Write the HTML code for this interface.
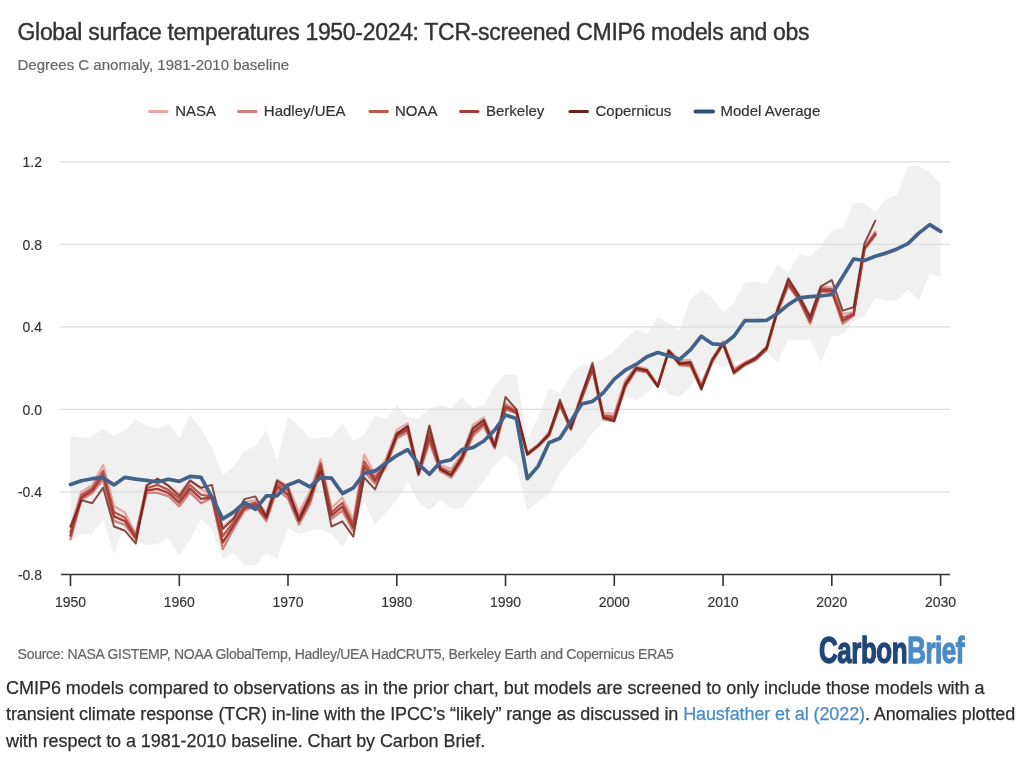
<!DOCTYPE html>
<html><head><meta charset="utf-8"><style>
html,body{margin:0;padding:0;background:#fff;width:1024px;height:757px;overflow:hidden}
body{position:relative;font-family:"Liberation Sans",sans-serif;filter:blur(0.3px)}
</style></head><body>
<svg width="1024" height="757" style="position:absolute;left:0;top:0">
<polygon points="70.5,435.8 81.4,438.1 92.3,435.8 103.1,429.2 114.0,435.8 124.9,430.4 135.8,419.5 146.6,425.5 157.5,428.4 168.4,423.4 179.3,438.1 190.1,414.6 201.0,428.4 211.9,447.3 222.8,475.2 233.6,466.5 244.5,450.4 255.4,445.9 266.3,429.8 277.1,460.5 288.0,416.6 298.9,425.5 309.8,438.7 320.6,437.2 331.5,437.2 342.4,423.4 353.3,441.4 364.2,434.8 375.0,415.8 385.9,418.7 396.8,405.5 407.7,417.2 418.5,418.7 429.4,408.6 440.3,405.5 451.2,408.6 462.0,396.8 472.9,408.6 483.8,405.5 494.7,385.1 505.5,374.8 516.4,374.8 527.3,439.1 538.2,417.2 549.0,387.9 559.9,393.7 570.8,374.8 581.7,364.4 592.5,364.4 603.4,358.7 614.3,351.2 625.2,338.7 636.1,329.4 646.9,334.3 657.8,317.6 668.7,322.8 679.6,331.0 690.4,299.5 701.3,289.6 712.2,297.8 723.1,312.5 733.9,302.8 744.8,282.8 755.7,281.1 766.6,284.4 777.4,264.6 788.3,272.9 799.2,254.7 810.1,256.4 820.9,246.5 831.8,230.0 842.7,227.9 853.6,203.1 864.4,203.1 875.3,212.4 886.2,199.0 897.1,194.9 908.0,166.0 918.8,166.0 929.7,172.2 940.6,184.6 940.6,277.4 929.7,273.3 918.8,300.7 908.0,289.8 897.1,300.1 886.2,301.1 875.3,298.0 864.4,316.6 853.6,320.7 842.7,335.1 831.8,336.2 820.9,362.0 810.1,339.3 799.2,340.3 788.3,339.3 777.4,362.6 766.6,351.6 755.7,351.6 744.8,359.9 733.9,362.6 723.1,368.1 712.2,359.9 701.3,372.3 690.4,386.7 679.6,396.4 668.7,394.5 657.8,382.6 646.9,392.9 636.1,400.3 625.2,397.0 614.3,406.3 603.4,422.8 592.5,433.1 581.7,448.6 570.8,458.9 559.9,473.3 549.0,494.0 538.2,502.2 527.3,510.5 516.4,465.1 505.5,454.8 494.7,465.1 483.8,481.6 472.9,494.0 462.0,508.4 451.2,508.4 440.3,500.1 429.4,510.5 418.5,502.2 407.7,481.6 396.8,500.1 385.9,512.5 375.0,524.9 364.2,501.0 353.3,529.0 342.4,547.2 331.5,534.0 320.6,529.4 309.8,530.9 298.9,534.0 288.0,528.0 277.1,558.7 266.3,552.9 255.4,565.3 244.5,564.7 233.6,552.9 222.8,558.7 211.9,529.4 201.0,519.1 190.1,539.8 179.3,555.8 168.4,538.3 157.5,544.1 146.6,545.5 135.8,539.8 124.9,522.2 114.0,554.4 103.1,519.1 92.3,534.0 81.4,534.8 70.5,539.8" fill="#f0f0f0"/>
<line x1="60" x2="950" y1="161.9" y2="161.9" stroke="#dedede" stroke-width="1.3"/>
<line x1="60" x2="950" y1="244.4" y2="244.4" stroke="#dedede" stroke-width="1.3"/>
<line x1="60" x2="950" y1="326.9" y2="326.9" stroke="#dedede" stroke-width="1.3"/>
<line x1="60" x2="950" y1="409.4" y2="409.4" stroke="#dedede" stroke-width="1.3"/>
<line x1="60" x2="950" y1="491.9" y2="491.9" stroke="#dedede" stroke-width="1.3"/>
<line x1="61" x2="950" y1="574.5" y2="574.5" stroke="#333" stroke-width="1.6"/>
<line x1="70.5" x2="70.5" y1="574.5" y2="586" stroke="#333" stroke-width="1.6"/>
<line x1="179.3" x2="179.3" y1="574.5" y2="586" stroke="#333" stroke-width="1.6"/>
<line x1="288.0" x2="288.0" y1="574.5" y2="586" stroke="#333" stroke-width="1.6"/>
<line x1="396.8" x2="396.8" y1="574.5" y2="586" stroke="#333" stroke-width="1.6"/>
<line x1="505.5" x2="505.5" y1="574.5" y2="586" stroke="#333" stroke-width="1.6"/>
<line x1="614.3" x2="614.3" y1="574.5" y2="586" stroke="#333" stroke-width="1.6"/>
<line x1="723.1" x2="723.1" y1="574.5" y2="586" stroke="#333" stroke-width="1.6"/>
<line x1="831.8" x2="831.8" y1="574.5" y2="586" stroke="#333" stroke-width="1.6"/>
<line x1="940.6" x2="940.6" y1="574.5" y2="586" stroke="#333" stroke-width="1.6"/>
<polyline points="70.5,527.0 81.4,491.9 92.3,484.9 103.1,465.1 114.0,506.3 124.9,512.5 135.8,534.2 146.6,484.9 157.5,479.5 168.4,485.7 179.3,494.0 190.1,480.1 201.0,488.8 211.9,496.0 222.8,527.2 233.6,517.7 244.5,502.2 255.4,500.1 266.3,512.5 277.1,479.9 288.0,485.7 298.9,512.5 309.8,491.9 320.6,459.5 331.5,508.0 342.4,497.7 353.3,519.7 364.2,454.8 375.0,474.2 385.9,458.9 396.8,430.0 407.7,423.4 418.5,471.3 429.4,425.1 440.3,465.1 451.2,469.2 462.0,453.7 472.9,425.1 483.8,417.6 494.7,442.4 505.5,403.2 516.4,409.4 527.3,452.7 538.2,444.5 549.0,432.1 559.9,402.2 570.8,425.9 581.7,392.9 592.5,366.1 603.4,413.5 614.3,413.5 625.2,380.7 636.1,366.1 646.9,368.8 657.8,385.1 668.7,349.8 679.6,360.1 690.4,360.1 701.3,384.2 712.2,358.5 723.1,341.3 733.9,368.8 744.8,362.0 755.7,356.8 766.6,346.5 777.4,308.3 788.3,278.6 799.2,294.9 810.1,316.0 820.9,286.3 831.8,287.7 842.7,313.9 853.6,312.5 864.4,247.1 875.3,231.4" fill="none" stroke="#e6a8a6" stroke-width="2.4" stroke-linejoin="round" stroke-linecap="round" opacity="1"/>
<polyline points="70.5,539.3 81.4,500.1 92.3,492.9 103.1,479.5 114.0,520.8 124.9,524.9 135.8,539.3 146.6,492.9 157.5,492.9 168.4,496.0 179.3,506.3 190.1,492.3 201.0,503.2 211.9,498.1 222.8,549.0 233.6,528.6 244.5,510.5 255.4,506.3 266.3,521.0 277.1,489.0 288.0,498.5 298.9,524.5 309.8,504.3 320.6,469.2 331.5,518.7 342.4,510.5 353.3,531.1 364.2,471.3 375.0,483.6 385.9,467.1 396.8,438.3 407.7,432.1 418.5,475.4 429.4,442.4 440.3,471.3 451.2,477.5 462.0,461.0 472.9,436.2 483.8,425.9 494.7,448.6 505.5,409.4 516.4,413.5 527.3,454.8 538.2,446.5 549.0,436.2 559.9,405.3 570.8,430.0 581.7,399.1 592.5,370.2 603.4,419.3 614.3,421.2 625.2,387.7 636.1,370.2 646.9,372.3 657.8,386.7 668.7,351.6 679.6,365.3 690.4,366.1 701.3,389.4 712.2,362.0 723.1,344.6 733.9,373.9 744.8,365.3 755.7,360.1 766.6,349.8 777.4,312.5 788.3,285.6 799.2,300.7 810.1,323.6 820.9,291.8 831.8,291.8 842.7,323.8 853.6,315.6 864.4,249.6 875.3,235.5" fill="none" stroke="#cf827e" stroke-width="2.4" stroke-linejoin="round" stroke-linecap="round" opacity="1"/>
<polyline points="70.5,531.9 81.4,495.2 92.3,488.1 103.1,470.9 114.0,512.1 124.9,517.5 135.8,536.2 146.6,488.1 157.5,484.9 168.4,489.8 179.3,498.9 190.1,485.0 201.0,494.6 211.9,496.8 222.8,535.9 233.6,522.1 244.5,505.5 255.4,502.6 266.3,515.9 277.1,483.6 288.0,490.8 298.9,517.3 309.8,496.8 320.6,463.4 331.5,512.3 342.4,502.8 353.3,524.3 364.2,461.4 375.0,478.0 385.9,462.2 396.8,433.3 407.7,426.9 418.5,472.9 429.4,432.0 440.3,467.6 451.2,472.5 462.0,456.6 472.9,429.5 483.8,420.9 494.7,444.9 505.5,405.7 516.4,411.0 527.3,453.5 538.2,445.3 549.0,433.7 559.9,403.4 570.8,427.5 581.7,395.4 592.5,367.7 603.4,415.8 614.3,416.6 625.2,383.5 636.1,367.7 646.9,370.2 657.8,385.7 668.7,350.5 679.6,362.2 690.4,362.5 701.3,386.3 712.2,359.9 723.1,342.7 733.9,370.8 744.8,363.3 755.7,358.1 766.6,347.8 777.4,310.0 788.3,281.4 799.2,297.2 810.1,319.0 820.9,288.5 831.8,289.4 842.7,317.9 853.6,313.7 864.4,248.1 875.3,233.1" fill="none" stroke="#bd574d" stroke-width="2.4" stroke-linejoin="round" stroke-linecap="round" opacity="1"/>
<polyline points="70.5,535.6 81.4,497.7 92.3,490.5 103.1,475.2 114.0,516.4 124.9,521.2 135.8,537.8 146.6,490.5 157.5,488.9 168.4,492.9 179.3,502.6 190.1,488.7 201.0,498.9 211.9,497.5 222.8,542.5 233.6,525.3 244.5,508.0 255.4,504.5 266.3,518.4 277.1,486.3 288.0,494.7 298.9,520.9 309.8,500.6 320.6,466.3 331.5,515.5 342.4,506.6 353.3,527.7 364.2,466.3 375.0,480.8 385.9,464.7 396.8,435.8 407.7,429.5 418.5,474.2 429.4,437.2 440.3,469.4 451.2,475.0 462.0,458.8 472.9,432.9 483.8,423.4 494.7,446.7 505.5,407.5 516.4,412.3 527.3,454.2 538.2,445.9 549.0,435.0 559.9,404.3 570.8,428.8 581.7,397.2 592.5,369.0 603.4,417.6 614.3,418.9 625.2,385.6 636.1,369.0 646.9,371.2 657.8,386.2 668.7,351.1 679.6,363.7 690.4,364.3 701.3,387.8 712.2,360.9 723.1,343.6 733.9,372.4 744.8,364.3 755.7,359.1 766.6,348.8 777.4,311.2 788.3,283.5 799.2,299.0 810.1,321.3 820.9,290.2 831.8,290.6 842.7,320.8 853.6,314.6 864.4,248.8 875.3,234.3" fill="none" stroke="#a43f38" stroke-width="2.4" stroke-linejoin="round" stroke-linecap="round" opacity="1"/>
<polyline points="70.5,526.5 81.4,500.1 92.3,503.2 103.1,487.6 114.0,526.5 124.9,530.7 135.8,543.5 146.6,485.7 157.5,478.7 168.4,485.7 179.3,496.0 190.1,480.6 201.0,487.8 211.9,484.9 222.8,529.0 233.6,518.7 244.5,499.1 255.4,496.4 266.3,516.6 277.1,480.6 288.0,487.8 298.9,520.8 309.8,496.0 320.6,471.3 331.5,526.5 342.4,521.4 353.3,536.7 364.2,477.5 375.0,489.4 385.9,463.0 396.8,434.1 407.7,425.9 418.5,473.3 429.4,425.9 440.3,469.2 451.2,475.4 462.0,456.8 472.9,428.0 483.8,419.7 494.7,446.5 505.5,397.0 516.4,409.4 527.3,454.8 538.2,445.5 549.0,434.1 559.9,399.7 570.8,428.0 581.7,395.0 592.5,362.8 603.4,417.6 614.3,421.2 625.2,384.6 636.1,368.1 646.9,370.2 657.8,386.7 668.7,350.6 679.6,364.0 690.4,362.0 701.3,389.4 712.2,359.9 723.1,343.4 733.9,372.3 744.8,364.0 755.7,357.8 766.6,347.5 777.4,310.4 788.3,278.6 799.2,296.0 810.1,316.6 820.9,286.3 831.8,280.1 842.7,310.6 853.6,307.3 864.4,243.8 875.3,220.7" fill="none" stroke="#6a2019" stroke-width="2.0" stroke-linejoin="round" stroke-linecap="round" opacity="0.8"/>
<polyline points="70.5,484.5 81.4,480.8 92.3,478.7 103.1,477.7 114.0,484.9 124.9,477.3 135.8,479.1 146.6,480.3 157.5,482.0 168.4,479.3 179.3,481.4 190.1,476.4 201.0,477.3 211.9,497.1 222.8,518.9 233.6,512.1 244.5,502.6 255.4,509.4 266.3,495.8 277.1,495.8 288.0,484.9 298.9,480.8 309.8,486.9 320.6,477.7 331.5,478.1 342.4,493.5 353.3,487.8 364.2,473.3 375.0,470.9 385.9,463.2 396.8,455.6 407.7,449.6 418.5,464.1 429.4,474.2 440.3,462.2 451.2,459.7 462.0,449.6 472.9,447.6 483.8,441.0 494.7,430.0 505.5,415.0 516.4,418.5 527.3,478.7 538.2,466.1 549.0,442.8 559.9,438.3 570.8,421.2 581.7,404.0 592.5,401.4 603.4,392.7 614.3,379.1 625.2,370.2 636.1,364.4 646.9,356.8 657.8,352.5 668.7,355.8 679.6,359.3 690.4,349.8 701.3,336.2 712.2,343.8 723.1,344.6 733.9,336.2 744.8,320.7 755.7,320.7 766.6,320.3 777.4,313.5 788.3,304.6 799.2,297.8 810.1,296.6 820.9,296.0 831.8,294.5 842.7,276.8 853.6,259.0 864.4,260.5 875.3,256.2 886.2,253.1 897.1,248.9 908.0,243.6 918.8,233.1 929.7,224.6 940.6,231.4" fill="none" stroke="#44618a" stroke-width="3.7" stroke-linejoin="round" stroke-linecap="round"/>
<line x1="149.5" x2="167.0" y1="111.5" y2="111.5" stroke="#e6a8a6" stroke-width="3" stroke-linecap="round"/>
<line x1="238.5" x2="256.0" y1="111.5" y2="111.5" stroke="#cf827e" stroke-width="3" stroke-linecap="round"/>
<line x1="370.0" x2="387.5" y1="111.5" y2="111.5" stroke="#bd574d" stroke-width="3" stroke-linecap="round"/>
<line x1="460.5" x2="478.0" y1="111.5" y2="111.5" stroke="#a43f38" stroke-width="3" stroke-linecap="round"/>
<line x1="570.0" x2="587.5" y1="111.5" y2="111.5" stroke="#6a2019" stroke-width="3" stroke-linecap="round"/>
<line x1="695.5" x2="713.0" y1="111.5" y2="111.5" stroke="#34507a" stroke-width="4" stroke-linecap="round"/>
</svg>
<div style="position:absolute;left:17.5px;top:20.8px;font-size:23px;line-height:23px;color:#333;white-space:nowrap;letter-spacing:-0.31px;-webkit-text-stroke:0.38px #333">Global surface temperatures 1950-2024: TCR-screened CMIP6 models and obs</div>
<div style="position:absolute;left:17.5px;top:56.9px;font-size:15px;line-height:15px;color:#666;white-space:nowrap;-webkit-text-stroke:0.2px #666">Degrees C anomaly, 1981-2010 baseline</div>
<div style="position:absolute;left:175.2px;top:103.4px;font-size:15px;line-height:15px;color:#333;white-space:nowrap;-webkit-text-stroke:0.2px #333">NASA</div>
<div style="position:absolute;left:263.8px;top:103.4px;font-size:15px;line-height:15px;color:#333;white-space:nowrap;-webkit-text-stroke:0.2px #333">Hadley/UEA</div>
<div style="position:absolute;left:395.0px;top:103.4px;font-size:15px;line-height:15px;color:#333;white-space:nowrap;-webkit-text-stroke:0.2px #333">NOAA</div>
<div style="position:absolute;left:486.0px;top:103.4px;font-size:15px;line-height:15px;color:#333;white-space:nowrap;-webkit-text-stroke:0.2px #333">Berkeley</div>
<div style="position:absolute;left:595.5px;top:103.4px;font-size:15px;line-height:15px;color:#333;white-space:nowrap;-webkit-text-stroke:0.2px #333">Copernicus</div>
<div style="position:absolute;left:720.5px;top:103.4px;font-size:15px;line-height:15px;color:#333;white-space:nowrap;-webkit-text-stroke:0.2px #333">Model Average</div>
<div style="position:absolute;right:982.0px;top:155.2px;font-size:14px;line-height:14px;color:#333;white-space:nowrap;text-align:right;-webkit-text-stroke:0.15px #333">1.2</div>
<div style="position:absolute;right:982.0px;top:237.7px;font-size:14px;line-height:14px;color:#333;white-space:nowrap;text-align:right;-webkit-text-stroke:0.15px #333">0.8</div>
<div style="position:absolute;right:982.0px;top:320.2px;font-size:14px;line-height:14px;color:#333;white-space:nowrap;text-align:right;-webkit-text-stroke:0.15px #333">0.4</div>
<div style="position:absolute;right:982.0px;top:402.7px;font-size:14px;line-height:14px;color:#333;white-space:nowrap;text-align:right;-webkit-text-stroke:0.15px #333">0.0</div>
<div style="position:absolute;right:982.0px;top:485.2px;font-size:14px;line-height:14px;color:#333;white-space:nowrap;text-align:right;-webkit-text-stroke:0.15px #333">-0.4</div>
<div style="position:absolute;right:982.0px;top:567.7px;font-size:14px;line-height:14px;color:#333;white-space:nowrap;text-align:right;-webkit-text-stroke:0.15px #333">-0.8</div>
<div style="position:absolute;left:20.5px;width:100px;top:595.0px;font-size:14px;line-height:14px;color:#333;white-space:nowrap;text-align:center;-webkit-text-stroke:0.15px #333">1950</div>
<div style="position:absolute;left:129.3px;width:100px;top:595.0px;font-size:14px;line-height:14px;color:#333;white-space:nowrap;text-align:center;-webkit-text-stroke:0.15px #333">1960</div>
<div style="position:absolute;left:238.0px;width:100px;top:595.0px;font-size:14px;line-height:14px;color:#333;white-space:nowrap;text-align:center;-webkit-text-stroke:0.15px #333">1970</div>
<div style="position:absolute;left:346.8px;width:100px;top:595.0px;font-size:14px;line-height:14px;color:#333;white-space:nowrap;text-align:center;-webkit-text-stroke:0.15px #333">1980</div>
<div style="position:absolute;left:455.5px;width:100px;top:595.0px;font-size:14px;line-height:14px;color:#333;white-space:nowrap;text-align:center;-webkit-text-stroke:0.15px #333">1990</div>
<div style="position:absolute;left:564.3px;width:100px;top:595.0px;font-size:14px;line-height:14px;color:#333;white-space:nowrap;text-align:center;-webkit-text-stroke:0.15px #333">2000</div>
<div style="position:absolute;left:673.1px;width:100px;top:595.0px;font-size:14px;line-height:14px;color:#333;white-space:nowrap;text-align:center;-webkit-text-stroke:0.15px #333">2010</div>
<div style="position:absolute;left:781.8px;width:100px;top:595.0px;font-size:14px;line-height:14px;color:#333;white-space:nowrap;text-align:center;-webkit-text-stroke:0.15px #333">2020</div>
<div style="position:absolute;left:890.6px;width:100px;top:595.0px;font-size:14px;line-height:14px;color:#333;white-space:nowrap;text-align:center;-webkit-text-stroke:0.15px #333">2030</div>
<div style="position:absolute;left:17.6px;top:647.1px;font-size:14px;line-height:14px;color:#666;white-space:nowrap;letter-spacing:-0.27px;-webkit-text-stroke:0.2px #666">Source: NASA GISTEMP, NOAA GlobalTemp, Hadley/UEA HadCRUT5, Berkeley Earth and Copernicus ERA5</div>
<div style="position:absolute;left:819.3px;top:633.1px;font-size:36px;line-height:36px;font-weight:bold;white-space:nowrap;transform:scaleX(0.72);transform-origin:0 0;letter-spacing:-0.6px"><span style="color:#1f4674;-webkit-text-stroke:1.3px #1f4674">Carbon</span><span style="color:#4a8ac8;-webkit-text-stroke:1.3px #4a8ac8">Brief</span></div>
<div style="position:absolute;left:6.0px;top:678.9px;font-size:18px;line-height:18px;color:#2e2e2e;white-space:nowrap;letter-spacing:-0.025px;-webkit-text-stroke:0.25px #2e2e2e">CMIP6 models compared to observations as in the prior chart, but models are screened to only include those models with a</div>
<div style="position:absolute;left:6.0px;top:705.1px;font-size:18px;line-height:18px;color:#2e2e2e;white-space:nowrap;letter-spacing:-0.1px;-webkit-text-stroke:0.25px #2e2e2e">transient climate response (TCR) in-line with the IPCC’s “likely” range as discussed in <span style="color:#4a8cc4;-webkit-text-stroke:0.25px #4a8cc4">Hausfather et al (2022)</span>. Anomalies plotted</div>
<div style="position:absolute;left:6.0px;top:731.7px;font-size:18px;line-height:18px;color:#2e2e2e;white-space:nowrap;letter-spacing:-0.07px;-webkit-text-stroke:0.25px #2e2e2e">with respect to a 1981-2010 baseline. Chart by Carbon Brief.</div>
</body></html>
